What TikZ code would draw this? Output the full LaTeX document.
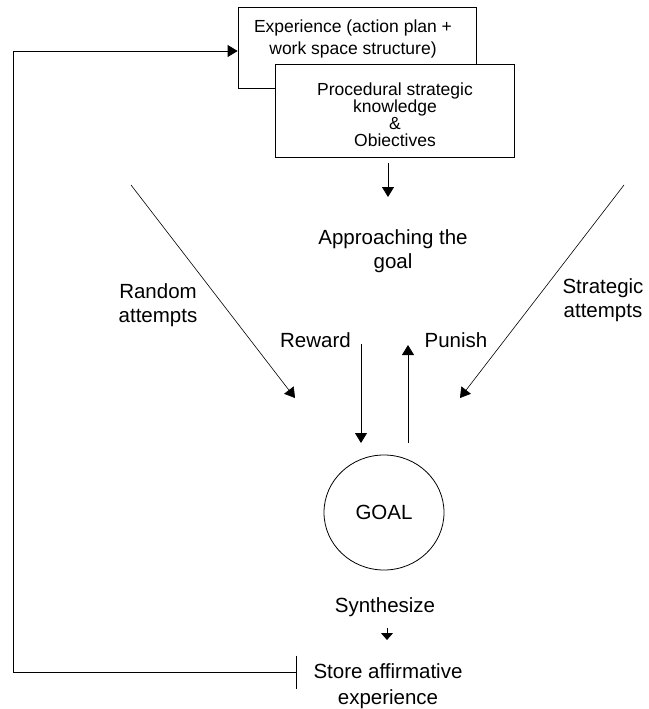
\documentclass[tikz,border=0pt]{standalone}
\usepackage{fontspec}
\setmainfont{Liberation Sans}
\usetikzlibrary{arrows.meta,shapes.geometric}
\begin{document}
\begin{tikzpicture}[x=1pt,y=-1pt,
  line width=0.8pt,
  boxnode/.style={draw, fill=white, inner sep=0pt},
  boxtext/.style={font=\fontsize{17.5}{17}\selectfont, align=center, inner sep=0pt},
  lbl/.style={font=\fontsize{20.5}{24}\selectfont, align=center, inner sep=0pt},
  arr/.style={-{Triangle[length=10pt,width=12pt]}},
  smallarr/.style={-{Triangle[length=7pt,width=12pt]}},
]
\useasboundingbox (0,0) rectangle (648,709);
% boxes
\node[boxnode, minimum width=238pt, minimum height=81pt] (exp) at (357,47.5) {};
\node[boxtext, font=\fontsize{17.5}{22}\selectfont, anchor=base] (exptext) at (353,55) {Experience (action plan +\\work space structure)};
\node[boxnode, minimum width=239pt, minimum height=93pt] (proc) at (394.5,110.5) {};
\node[boxtext, anchor=base] (proctext) at (395,146) {Procedural strategic\\knowledge\\\&\\Obiectives};
% labels
\node[lbl, anchor=base] (appr) at (393,268) {Approaching the\\goal};
\node[lbl, anchor=base] (rand) at (158,322) {Random\\attempts};
\node[lbl, anchor=base] (strat) at (603,317) {Strategic\\attempts};
\node[lbl, anchor=base] (reward) at (315.5,347) {Reward};
\node[lbl, anchor=base] (punish) at (456,347) {Punish};
\node[draw, ellipse, minimum width=120pt, minimum height=115pt, lbl] (goal) at (384,512.5) {GOAL};
\node[lbl, anchor=base] (synth) at (385,612) {Synthesize};
\node[lbl, anchor=base, font=\fontsize{20.5}{26}\selectfont] (store) at (388,704) {Store affirmative\\experience};
% free connector ends
\coordinate (pa) at (388,163);
\coordinate (pb) at (388,197);
\coordinate (ra) at (131,185);
\coordinate (rb) at (295,398);
\coordinate (sa) at (624,185);
\coordinate (sb) at (460,398);
\coordinate (rwa) at (361,344);
\coordinate (rwb) at (361,443);
\coordinate (pua) at (408,443);
\coordinate (pub) at (408,345);
\coordinate (sya) at (387,628);
\coordinate (syb) at (387,640);
\coordinate (fbstart) at (297,672);
\coordinate (fbc1) at (13,672);
\coordinate (fbc2) at (13,51);
% connectors
\draw[arr] (pa) -- (pb);
\draw[arr, line width=0.6pt] (ra) -- (rb);
\draw[arr, line width=0.6pt] (sa) -- (sb);
\draw[arr] (rwa) -- (rwb);
\draw[arr] (pua) -- (pub);
\draw[smallarr] (sya) -- (syb);
\draw[{Bar[width=33pt]}-{Triangle[length=10pt,width=12pt]}] (fbstart) -- (fbc1) -- (fbc2) -- (exp.west |- fbc2);
\end{tikzpicture}
\end{document}
